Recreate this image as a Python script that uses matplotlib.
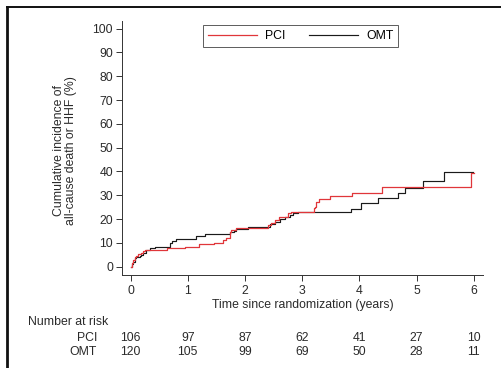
import matplotlib
matplotlib.use("Agg")
import matplotlib.pyplot as plt
from matplotlib.lines import Line2D
from matplotlib.transforms import blended_transform_factory

plt.rcParams['font.family'] = ['Liberation Sans', 'DejaVu Sans']

# ---- data ----
pci_t = [0, 0.02, 0.04, 0.08, 0.10, 0.13, 0.18, 0.22, 0.26, 0.63, 0.95, 1.20, 1.45, 1.62,
         1.66, 1.74, 1.76, 1.85, 2.41, 2.45, 2.52, 2.60, 2.76, 2.80, 3.20, 3.22, 3.25, 3.30,
         3.48, 3.87, 4.39, 5.96, 6.00]
pci_y = [0, 1.5, 3.0, 4.0, 4.5, 5.3, 5.6, 6.7, 7.0, 7.7, 8.4, 9.4, 10.1, 11.2,
         11.9, 14.7, 15.4, 16.1, 17.5, 18.2, 19.6, 21.0, 22.4, 22.9, 24.5, 25.2, 27.2, 28.3,
         29.6, 31.1, 33.3, 39.5, 39.5]

omt_t = [0, 0.03, 0.05, 0.075, 0.10, 0.16, 0.19, 0.22, 0.27, 0.34, 0.42, 0.69, 0.72, 0.80,
         1.15, 1.30, 1.74, 1.80, 1.85, 2.06, 2.44, 2.52, 2.61, 2.70, 2.78, 2.84, 2.93, 3.86,
         4.02, 4.33, 4.68, 4.80, 5.11, 5.48, 5.99]
omt_y = [0, 1.0, 2.1, 3.5, 3.9, 4.5, 5.0, 5.9, 7.0, 7.7, 8.4, 9.8, 10.9, 11.6,
         12.9, 13.7, 14.4, 15.0, 15.7, 16.8, 17.9, 18.9, 19.9, 20.8, 21.6, 22.4, 22.9, 24.1,
         26.9, 28.7, 30.9, 32.9, 36.0, 39.6, 39.6]

risk_times = [0, 1, 2, 3, 4, 5, 6]
pci_risk = [106, 97, 87, 62, 41, 27, 10]
omt_risk = [120, 105, 99, 69, 50, 28, 11]
group_labels = ["PCI", "OMT"]

x_ticks = [0, 1, 2, 3, 4, 5, 6]
y_ticks = [0, 10, 20, 30, 40, 50, 60, 70, 80, 90, 100]

RED = '#e0363a'
BLACK = '#1a1a1a'
TXT = '#2a2a2a'
FS = 8.8

fig = plt.figure(figsize=(5.02, 3.68), dpi=100)
ax = fig.add_axes([0.243, 0.2514, 0.719, 0.6916])

ax.step(omt_t, omt_y, where='post', color=BLACK, lw=0.85, label=group_labels[1])
ax.step(pci_t, pci_y, where='post', color=RED, lw=0.9, label=group_labels[0])

ax.set_xlim(-0.15, 6.16)
ax.set_ylim(-3.7, 103.2)
ax.set_xticks(x_ticks)
ax.set_yticks(y_ticks)
ax.tick_params(axis='both', direction='out', length=4, width=0.7, colors='#333333',
               labelsize=FS, labelcolor=TXT, pad=2.5)
for s in ['top', 'right']:
    ax.spines[s].set_visible(False)
for s in ['left', 'bottom']:
    ax.spines[s].set_linewidth(0.7)
    ax.spines[s].set_color('#333333')

ax.set_xlabel("Time since randomization (years)", fontsize=FS, color=TXT, labelpad=2)
ax.set_ylabel("Cumulative incidence of\nall-cause death or HHF (%)", fontsize=FS,
              color=TXT, linespacing=0.95)
ax.yaxis.set_label_coords(-0.125, 0.49)

handles = [Line2D([], [], color=RED, lw=0.9), Line2D([], [], color=BLACK, lw=0.85)]
leg = fig.legend(handles, group_labels, loc='upper center', bbox_to_anchor=(0.599, 0.948),
                 ncol=2, frameon=True, fancybox=False, fontsize=FS, handlelength=4.0,
                 columnspacing=1.9, borderpad=0.4, handletextpad=0.7)
leg.get_frame().set_edgecolor('#333333')
leg.get_frame().set_linewidth(0.7)

# number at risk table
tr = blended_transform_factory(ax.transData, fig.transFigure)
fig.text(28 / 502, 1 - 322 / 368, "Number at risk", fontsize=FS, color=TXT,
         ha='left', va='center')
rows = [pci_risk, omt_risk]
row_y = [1 - 338 / 368, 1 - 352 / 368]
for lab, vals, yy in zip(group_labels, rows, row_y):
    fig.text(97 / 502, yy, lab, fontsize=FS, color=TXT, ha='right', va='center')
    for t, v in zip(risk_times, vals):
        ax.text(t, yy, str(v), transform=tr, fontsize=FS, color=TXT,
                ha='center', va='center', clip_on=False)

# outer frame (partially visible in the reference)
fig.add_artist(Line2D([7.5 / 502, 7.5 / 502], [0, 1 - 7.3 / 368], transform=fig.transFigure,
                      color='#111111', lw=2.0))
fig.add_artist(Line2D([7.5 / 502, 1], [1 - 7.3 / 368, 1 - 7.3 / 368], transform=fig.transFigure,
                      color='#111111', lw=1.4))

fig.savefig("out.png", dpi=100)
